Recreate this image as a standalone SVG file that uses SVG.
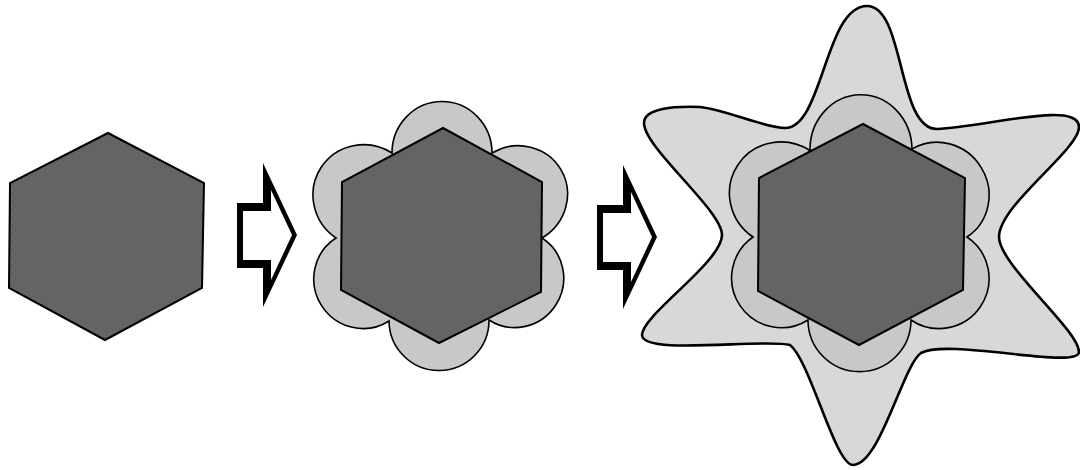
<svg xmlns="http://www.w3.org/2000/svg" width="1080" height="470" viewBox="0 0 1080 470">
<style>
.hex{fill:#646464;stroke:#000;stroke-width:2;stroke-linejoin:miter}
.petal{fill:#c8c8c8;stroke:#000;stroke-width:1.6}
.star{fill:#d8d8d8;stroke:#000;stroke-width:2.6}
.arrow{fill:#000;fill-rule:evenodd;stroke:none}
</style>
<defs>
<path id="blockArrow" class="arrow" d="M237,203 H263 V163 L297,235 L263,307 V268 H237 Z M243,211 V260 H271 V280 L292,235 L271,190 V211 Z"/>
</defs>
<rect width="1080" height="470" fill="#fff"/>
<g id="stage1">
<polygon class="hex" points="108,133 204,183 202,288 105,340 9,288 10,183"/>
</g>
<g id="stage2">
<path class="petal" d="M392,153 A50,51.5 0 0 1 492,153 A49.3,51 59.5 0 1 542,238 A48.8,48 122.9 0 1 489,320 A50,50 180 0 1 389,321 A49.2,48.5 -122.6 0 1 336,238 A50.9,52 -56.6 0 1 392,153 Z"/>
<polygon class="hex" points="443,128 542,182 541,292 439,343 341,290 342,182"/>
</g>
<g id="stage3">
<path class="star" d="M644,123 C644,108 675,106 700,107 C725,109.5 765,128 785,128 C823,128 825,6 867,6 C905,6 897,129 937,129 C985,127 1079,100 1079,127 C1079,150 999,205 999,237 C999,265 1079,330 1079,352 C1078,370 947,338 921,353 C903,365 880,465 853,465 C835,465 810,360 790,345 C765,338 642,356 642,335 C642,315 722,262 722,235 C722,210 644,148 644,123 Z"/>
<path class="petal" d="M810,150.5 A51,55 -0.8 0 1 912,149 A51.9,50 58 0 1 967,237 A50,50 124 0 1 911,320 A51.5,51.7 180 0 1 808,320 A49.8,50 -123.5 0 1 753,237 A51.8,53 -56.6 0 1 810,150.5 Z"/>
<polygon class="hex" points="863,124 965,178 963,290 859,345 758,291 759,178"/>
</g>
<g id="connectors">
<use href="#blockArrow"/>
<use href="#blockArrow" transform="translate(360,2)"/>
</g>
</svg>
